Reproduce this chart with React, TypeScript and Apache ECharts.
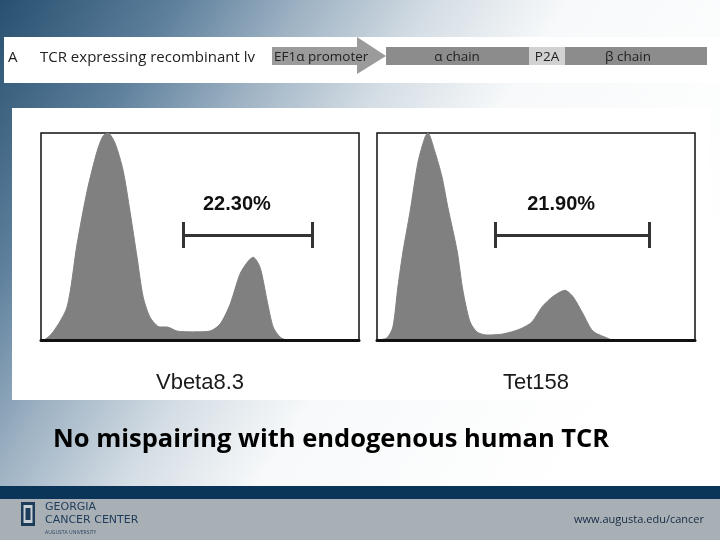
import React, { useEffect, useRef } from "react";
import * as echarts from "echarts";

// Histogram 1 (Vbeta8.3): x = channel position (0-100), y = % of max count
const vbetaX = [0, 0.6, 3.8, 8.2, 11.3, 14.5, 17.6, 19.5, 21.1, 23.3, 25.8, 28, 30.2, 32.1, 34.3, 37.4, 39.6, 42.8, 47.8, 53.1, 56.3, 59.4, 62.6, 65.1, 66.7, 68.9, 71.1, 73, 75.2, 77.4, 100];
const vbetaY = [0, 0, 3.9, 16, 46, 72, 91, 98.5, 100, 95, 82, 62, 40, 21, 11, 6.3, 6.3, 4.3, 3.9, 4.3, 7.7, 17, 32, 38, 40, 35, 19, 6.3, 1.4, 0, 0];
// Histogram 2 (Tet158)
const tetX = [0, 3.1, 5, 6.6, 8.2, 10.4, 12.9, 15.1, 16, 18.2, 20.4, 22.3, 25.2, 27, 29.2, 31.4, 34.6, 39.6, 45, 48.7, 51.9, 55.3, 59.1, 61.6, 64.8, 67.9, 72.3, 74.2, 100];
const tetY = [0, 1, 6.3, 26, 43, 62, 86, 98, 100, 91, 79, 64, 43, 24, 9, 3.9, 2.4, 2.9, 5.3, 8.7, 16, 21, 24, 21, 12.6, 4.3, 1, 0, 0];

const panelNames = ["Vbeta8.3", "Tet158"];
const gatePercent = ["22.30%", "21.90%"];
const gateStart = [44.7, 37.1];
const gateEnd = [85.2, 85.5];
const gateLevel = 50.7;
const gateTickLow = 44.4;
const gateTickHigh = 57;
const labelX = [61.6, 57.9];
const labelY = 66;

const constructParts = ["EF1α promoter", "α chain", "P2A", "β chain"];

export default function App() {
  const ref = useRef<HTMLDivElement>(null);
  useEffect(() => {
    if (!ref.current) return;
    const chart = echarts.init(ref.current, null, { renderer: "svg" });
    const hists = [
      vbetaX.map((x, i) => [x, vbetaY[i]]),
      tetX.map((x, i) => [x, tetY[i]]),
    ];
    const grids = [0, 1].map((i) => ({
      left: i === 0 ? 41 : 377,
      top: 133,
      width: 318,
      height: 207,
      show: true,
      backgroundColor: "#ffffff",
      borderColor: "#111",
      borderWidth: 1.5,
      z: 3,
    }));
    const xAxes = [0, 1].map((i) => ({
      type: "value",
      gridIndex: i,
      min: 0,
      max: 100,
      name: panelNames[i],
      nameLocation: "middle",
      nameGap: 30,
      nameTextStyle: { fontFamily: "Liberation Sans, Arial", fontSize: 22, color: "#1a1a1a" },
      axisLine: { show: true, lineStyle: { color: "#111", width: 3 } },
      axisTick: { show: false },
      axisLabel: { show: false },
      splitLine: { show: false },
      z: 5,
    }));
    const yAxes = [0, 1].map((i) => ({
      type: "value",
      gridIndex: i,
      min: 0,
      max: 100,
      axisLine: { show: false },
      axisTick: { show: false },
      axisLabel: { show: false },
      splitLine: { show: false },
    }));
    const series: any[] = [];
    [0, 1].forEach((i) => {
      series.push({
        type: "line",
        xAxisIndex: i,
        yAxisIndex: i,
        data: hists[i],
        smooth: 0.25,
        showSymbol: false,
        lineStyle: { width: 1, color: "#7f7f7f" },
        areaStyle: { color: "#808080", opacity: 1 },
        z: 4,
      });
      series.push({
        type: "lines",
        coordinateSystem: "cartesian2d",
        xAxisIndex: i,
        yAxisIndex: i,
        lineStyle: { color: "#333", width: 3, opacity: 1 },
        data: [
          { coords: [[gateStart[i], gateLevel], [gateEnd[i], gateLevel]] },
          { coords: [[gateStart[i], gateTickLow], [gateStart[i], gateTickHigh]] },
          { coords: [[gateEnd[i], gateTickLow], [gateEnd[i], gateTickHigh]] },
        ],
        z: 6,
      });
    });

    const bg = new echarts.graphic.LinearGradient(0, 0, 620, 400, [
      { offset: 0, color: "#27506f" },
      { offset: 0.2, color: "#5d7f9c" },
      { offset: 0.35, color: "#9fb3c4" },
      { offset: 0.5, color: "#d5dee5" },
      { offset: 0.65, color: "#f7f9fa" },
      { offset: 1, color: "#ffffff" },
    ], true);

    const cal = "Open Sans, Noto Sans, sans-serif";
    const logoFont = "DejaVu Sans, sans-serif";
    const graphic: any[] = [
      { type: "rect", shape: { x: 0, y: 0, width: 720, height: 540 }, style: { fill: bg }, z: -10 },
      { type: "rect", shape: { x: 4, y: 37, width: 716, height: 46 }, style: { fill: "#ffffff" }, z: -5 },
      { type: "text", x: 8, y: 56, style: { text: "A", fontFamily: cal, fontSize: 15, fill: "#222", verticalAlign: "middle" } },
      { type: "text", x: 40, y: 56, style: { text: "TCR expressing recombinant lv", fontFamily: cal, fontSize: 15, fill: "#222", verticalAlign: "middle" } },
      { type: "polygon", shape: { points: [[272, 47], [357, 47], [357, 37], [386, 56], [357, 74], [357, 65], [272, 65]] }, style: { fill: "#9b9b9b" } },
      { type: "rect", shape: { x: 386, y: 47, width: 143, height: 18 }, style: { fill: "#8c8c8c" } },
      { type: "rect", shape: { x: 529, y: 47, width: 36, height: 18 }, style: { fill: "#d2d2d2" } },
      { type: "rect", shape: { x: 565, y: 47, width: 142, height: 18 }, style: { fill: "#8c8c8c" } },
      { type: "text", x: 274, y: 56, style: { text: constructParts[0], fontFamily: cal, fontSize: 13.5, fill: "#222", verticalAlign: "middle" } },
      { type: "text", x: 457, y: 56, style: { text: constructParts[1], fontFamily: cal, fontSize: 13.5, fill: "#222", align: "center", verticalAlign: "middle" } },
      { type: "text", x: 547, y: 56, style: { text: constructParts[2], fontFamily: cal, fontSize: 13.5, fill: "#222", align: "center", verticalAlign: "middle" } },
      { type: "text", x: 628, y: 56, style: { text: constructParts[3], fontFamily: cal, fontSize: 13.5, fill: "#222", align: "center", verticalAlign: "middle" } },
      { type: "rect", shape: { x: 12, y: 108, width: 698, height: 292 }, style: { fill: "#ffffff" }, z: -5 },
      { type: "text", x: 53, y: 437, style: { text: "No mispairing with endogenous human TCR", fontFamily: cal, fontSize: 25.5, fontWeight: "bold", fill: "#000", verticalAlign: "middle" } },
      { type: "rect", shape: { x: 0, y: 486, width: 720, height: 13 }, style: { fill: "#0b3558" } },
      { type: "rect", shape: { x: 0, y: 499, width: 720, height: 41 }, style: { fill: "#a9b0b5" } },
      { type: "rect", shape: { x: 21, y: 502, width: 14, height: 24 }, style: { fill: "#1d3b5b" } },
      { type: "rect", shape: { x: 23.5, y: 505, width: 9, height: 18 }, style: { fill: "#c9d0d5" } },
      { type: "rect", shape: { x: 25.5, y: 508, width: 5, height: 12 }, style: { fill: "#1d3b5b" } },
      { type: "text", x: 45, y: 506, style: { text: "GEORGIA", fontFamily: logoFont, fontSize: 11, fill: "#1d3b5b", verticalAlign: "middle" } },
      { type: "text", x: 45, y: 519.5, style: { text: "CANCER CENTER", fontFamily: logoFont, fontSize: 11, fill: "#1d3b5b", verticalAlign: "middle" } },
      { type: "text", x: 45, y: 532, style: { text: "AUGUSTA UNIVERSITY", fontFamily: cal, fontSize: 5, fill: "#2a4462", verticalAlign: "middle" } },
      { type: "text", x: 704, y: 518, style: { text: "www.augusta.edu/cancer", fontFamily: cal, fontSize: 11, fill: "#142a45", align: "right", verticalAlign: "middle" } },
    ];

    chart.setOption({
      animation: false,
      grid: grids,
      xAxis: xAxes,
      yAxis: yAxes,
      series,
      graphic,
    });

    // gate percentage labels positioned through the chart's own scales
    const labels = [0, 1].map((i) => {
      const p = chart.convertToPixel({ gridIndex: i }, [labelX[i], labelY]) as number[];
      return {
        type: "text",
        x: p[0],
        y: p[1],
        z: 20,
        style: {
          text: gatePercent[i],
          fontFamily: "Liberation Sans, Arial",
          fontWeight: "bold",
          fontSize: 20,
          fill: "#111",
          align: "center",
          verticalAlign: "middle",
        },
      };
    });
    chart.setOption({ graphic: [...graphic, ...labels] });
    return () => chart.dispose();
  }, []);
  return <div ref={ref} style={{ position: "fixed", left: 0, top: 0, width: 720, height: 540 }} />;
}
